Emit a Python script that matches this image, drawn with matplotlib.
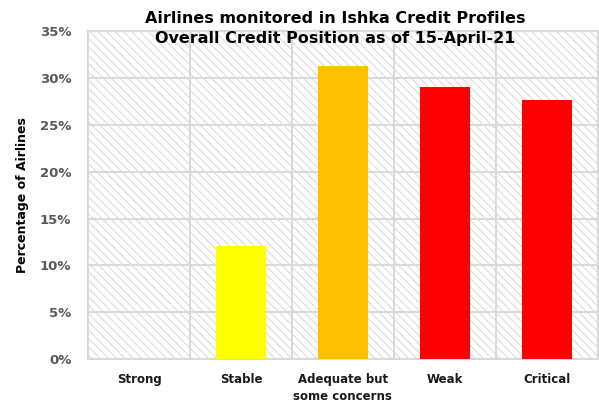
import matplotlib.pyplot as plt
from matplotlib.ticker import PercentFormatter

# chart data
categories = ["Strong", "Stable", "Adequate but\nsome concerns", "Weak", "Critical"]
shares = [0.0, 12.1, 31.3, 29.0, 27.7]
bar_colors = ["#ff0000", "#ffff00", "#ffc000", "#ff0000", "#ff0000"]
y_ticks = [0, 5, 10, 15, 20, 25, 30, 35]

plt.rcParams["font.family"] = "DejaVu Sans"
plt.rcParams["hatch.linewidth"] = 0.75
plt.rcParams["hatch.color"] = "#d9d9d9"

fig = plt.figure(figsize=(5.99, 4.04), dpi=100)
ax = fig.add_axes([0.147, 0.111, 0.851, 0.812])

# hatched plot area
ax.patch.set_facecolor("white")
ax.patch.set_hatch("\\\\\\\\")
ax.patch.set_edgecolor("#d9d9d9")

x = list(range(len(categories)))
ax.bar(x, shares, width=0.49, color=bar_colors, zorder=3)

ax.set_xlim(-0.5, len(categories) - 0.5)
ax.set_ylim(0, 35)
ax.set_yticks(y_ticks)
ax.yaxis.set_major_formatter(PercentFormatter(decimals=0))
ax.set_xticks(x)
ax.set_xticklabels(categories, fontsize=8.5, fontweight="bold", color="#1a1a1a",
                   linespacing=1.35)
ax.set_xticks([i + 0.5 for i in x[:-1]], minor=True)

# gridlines
ax.grid(axis="y", which="major", color="#d9d9d9", linewidth=1.5, zorder=1)
ax.grid(axis="x", which="minor", color="#d9d9d9", linewidth=1.5, zorder=1)
ax.set_axisbelow(True)

for side in ["top", "right", "left", "bottom"]:
    ax.spines[side].set_color("#d9d9d9")
    ax.spines[side].set_linewidth(1.5)

ax.tick_params(axis="both", which="both", length=0)
ax.tick_params(axis="x", pad=10)
ax.tick_params(axis="y", pad=12)
for lab in ax.get_yticklabels():
    lab.set_fontsize(9.5)
    lab.set_fontweight("bold")
    lab.set_color("#595959")

ax.set_ylabel("Percentage of Airlines", fontsize=9, fontweight="bold", labelpad=8)
fig.text(0.56, 0.972, "Airlines monitored in Ishka Credit Profiles\nOverall Credit Position as of 15-April-21",
         ha="center", va="top", fontsize=11.5, fontweight="bold", linespacing=1.35)

fig.savefig("out.png", dpi=100)
